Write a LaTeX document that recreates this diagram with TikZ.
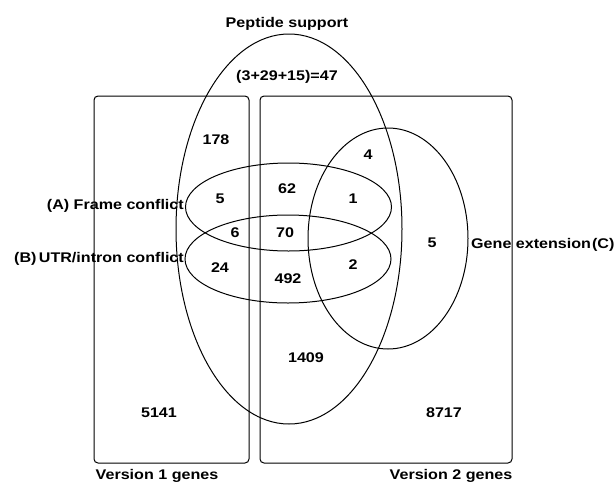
\documentclass[tikz,border=0pt]{standalone}
\usepackage{fontspec}
\setmainfont{Liberation Sans}[FakeStretch=1.15]
\begin{document}
\begin{tikzpicture}[x=1pt,y=-1pt,
  lbl/.style={inner sep=0pt,anchor=base,font=\fontsize{14}{16}\selectfont\bfseries},
  shp/.style={draw=black,line width=1pt},
  box/.style={shp,rounded corners=4pt}]
\useasboundingbox (0,0) rectangle (616,483);
% boxes
\draw[box] (94,96) rectangle (249,463);
\draw[box] (260,96) rectangle (512,463);
% ellipses
\draw[shp] (289,229) ellipse [x radius=113pt, y radius=195pt];
\draw[shp] (288.5,207) ellipse [x radius=103pt, y radius=44pt];
\draw[shp] (288,259) ellipse [x radius=103pt, y radius=44pt];
\draw[shp] (388,238.5) ellipse [x radius=80pt, y radius=110.5pt];
% labels
\node[lbl] (tpep) at (287,27) {Peptide support};
\node[lbl] (tsum) at (287,80) {(3+29+15)=47};
\node[lbl] (t178) at (216,144) {178};
\node[lbl] (t4) at (368,159) {4};
\node[lbl] (t62) at (287,193) {62};
\node[lbl] (t5a) at (220,203) {5};
\node[lbl] (t1) at (353,203) {1};
\node[lbl] (t6) at (235,237) {6};
\node[lbl] (t70) at (285,237) {70};
\node[lbl] (t5c) at (432,247) {5};
\node[lbl] (t24) at (220,272) {24};
\node[lbl] (t2) at (353,269) {2};
\node[lbl] (t492) at (288,283) {492};
\node[lbl] (t1409) at (306,362) {1409};
\node[lbl] (t5141) at (159,417) {5141};
\node[lbl] (t8717) at (444,417) {8717};
\node[lbl,anchor=base east] (tA) at (184,209) {(A) Frame conflict};
\node[lbl,anchor=base east] (tB) at (184,262) {(B)\,UTR/intron conflict};
\node[lbl,anchor=base west] (tC) at (471,248) {Gene extension\kern1pt(C)};
\node[lbl] (tv1) at (157,479) {Version 1 genes};
\node[lbl] (tv2) at (451,479) {Version 2 genes};
\end{tikzpicture}
\end{document}
